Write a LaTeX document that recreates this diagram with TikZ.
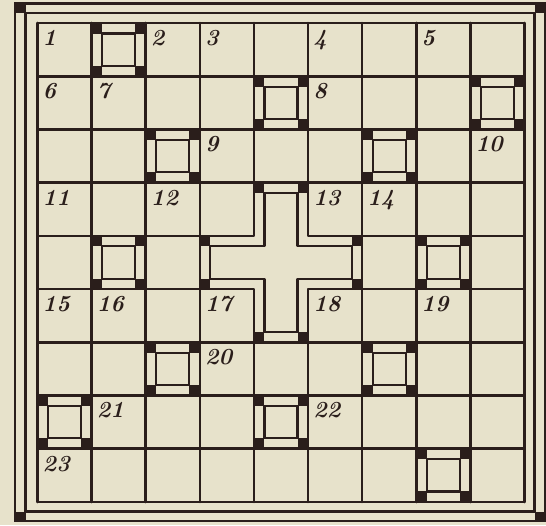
\documentclass[tikz,border=0pt]{standalone}
\usepackage{tikz}
\usetikzlibrary{positioning}
\definecolor{paper}{HTML}{E7E2CB}
\definecolor{ink}{HTML}{2A1E1B}

\begin{document}
\begin{tikzpicture}[
    x=1pt, y=-1pt,
    gridline/.style={draw=ink, line width=2.6pt, line cap=round},
    innerline/.style={draw=ink, line width=2.2pt, line join=round},
    frameline/.style={draw=ink, line width=2.8pt},
    blk/.style={fill=ink},
    num/.style={anchor=north west, inner sep=0pt, text=ink,
                font=\fontsize{23}{23}\selectfont\bfseries\itshape},
]
\def\gx{37.5}
\def\gy{23}
\def\cw{54.11}
\def\ch{53.22}
\def\ins{10.5}

\useasboundingbox (0,0) rectangle (546,525);
\fill[paper] (0,0) rectangle (546,525);

% double frame with dark corners
\draw[frameline] (15,3.5) rectangle (545,521);
\draw[frameline] (25.5,13) rectangle (534.5,511.5);
\fill[blk] (15,3.5) rectangle (25.5,13);
\fill[blk] (534.5,3.5) rectangle (545,13);
\fill[blk] (15,511.5) rectangle (25.5,521);
\fill[blk] (534.5,511.5) rectangle (545,521);

% grid lines
\foreach \i in {0,...,9} {
  \draw[gridline] ({\gx+\i*\cw},\gy) -- ({\gx+\i*\cw},{\gy+9*\ch});
  \draw[gridline] (\gx,{\gy+\i*\ch}) -- ({\gx+9*\cw},{\gy+\i*\ch});
}

% blocked squares
\foreach \c/\r in {2/1, 5/2, 9/2, 3/3, 7/3, 2/5, 8/5, 3/7, 7/7, 1/8, 5/8, 8/9} {
  \pgfmathsetmacro\xa{\gx+(\c-1)*\cw}
  \pgfmathsetmacro\ya{\gy+(\r-1)*\ch}
  \pgfmathsetmacro\xb{\xa+\cw}
  \pgfmathsetmacro\yb{\ya+\ch}
  \draw[innerline] (\xa+\ins,\ya+\ins) rectangle (\xb-\ins,\yb-\ins);
  \fill[blk] (\xa,\ya) rectangle +(\ins,\ins);
  \fill[blk] (\xb-\ins,\ya) rectangle +(\ins,\ins);
  \fill[blk] (\xa,\yb-\ins) rectangle +(\ins,\ins);
  \fill[blk] (\xb-\ins,\yb-\ins) rectangle +(\ins,\ins);
}

% central cross
\pgfmathsetmacro\xc{\gx+3*\cw}
\pgfmathsetmacro\xd{\gx+4*\cw}
\pgfmathsetmacro\xe{\gx+5*\cw}
\pgfmathsetmacro\xf{\gx+6*\cw}
\pgfmathsetmacro\yc{\gy+3*\ch}
\pgfmathsetmacro\yd{\gy+4*\ch}
\pgfmathsetmacro\ye{\gy+5*\ch}
\pgfmathsetmacro\yf{\gy+6*\ch}
\fill[paper] (\xd,\yc) -- (\xe,\yc) -- (\xe,\yd) -- (\xf,\yd) -- (\xf,\ye)
  -- (\xe,\ye) -- (\xe,\yf) -- (\xd,\yf) -- (\xd,\ye) -- (\xc,\ye)
  -- (\xc,\yd) -- (\xd,\yd) -- cycle;
\draw[gridline, line join=round] (\xd,\yc) -- (\xe,\yc) -- (\xe,\yd) -- (\xf,\yd) -- (\xf,\ye)
  -- (\xe,\ye) -- (\xe,\yf) -- (\xd,\yf) -- (\xd,\ye) -- (\xc,\ye)
  -- (\xc,\yd) -- (\xd,\yd) -- cycle;
\draw[innerline] (\xd+\ins,\yc+\ins) -- (\xe-\ins,\yc+\ins) -- (\xe-\ins,\yd+\ins)
  -- (\xf-\ins,\yd+\ins) -- (\xf-\ins,\ye-\ins) -- (\xe-\ins,\ye-\ins)
  -- (\xe-\ins,\yf-\ins) -- (\xd+\ins,\yf-\ins) -- (\xd+\ins,\ye-\ins)
  -- (\xc+\ins,\ye-\ins) -- (\xc+\ins,\yd+\ins) -- (\xd+\ins,\yd+\ins) -- cycle;
\fill[blk] (\xd,\yc) rectangle +(\ins,\ins);
\fill[blk] (\xe-\ins,\yc) rectangle +(\ins,\ins);
\fill[blk] (\xf-\ins,\yd) rectangle +(\ins,\ins);
\fill[blk] (\xf-\ins,\ye-\ins) rectangle +(\ins,\ins);
\fill[blk] (\xe-\ins,\yf-\ins) rectangle +(\ins,\ins);
\fill[blk] (\xd,\yf-\ins) rectangle +(\ins,\ins);
\fill[blk] (\xc,\ye-\ins) rectangle +(\ins,\ins);
\fill[blk] (\xc,\yd) rectangle +(\ins,\ins);

% clue numbers
\foreach \lbl/\c/\r in {1/1/1, 2/3/1, 3/4/1, 4/6/1, 5/8/1, 6/1/2, 7/2/2, 8/6/2,
    9/4/3, 10/9/3, 11/1/4, 12/3/4, 13/6/4, 14/7/4, 15/1/6, 16/2/6, 17/4/6,
    18/6/6, 19/8/6, 20/4/7, 21/2/8, 22/6/8, 23/1/9} {
  \node[num] (n\lbl) at ({\gx+(\c-1)*\cw+5},{\gy+(\r-1)*\ch+7}) {\lbl};
}

\end{tikzpicture}
\end{document}
